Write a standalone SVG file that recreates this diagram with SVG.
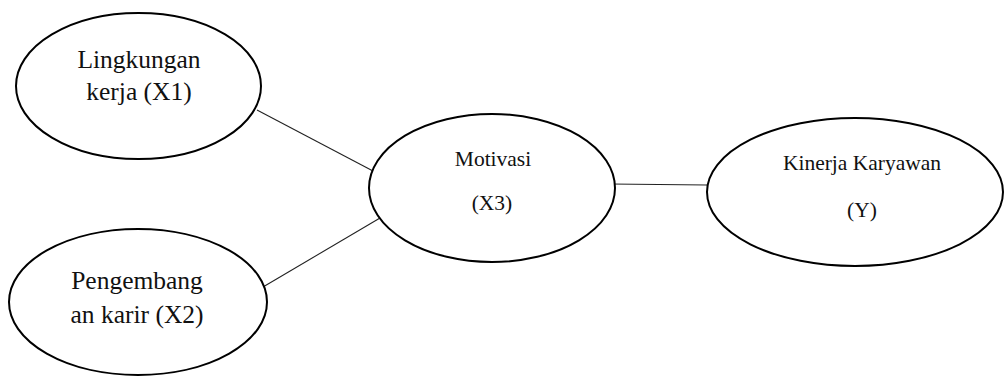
<svg xmlns="http://www.w3.org/2000/svg" width="1005" height="378" viewBox="0 0 1005 378">
<style>
.node ellipse{fill:#fff;stroke:#000;stroke-width:2}
.conn line{stroke:#222;stroke-width:1.1}
text{font-family:"Liberation Serif","Times New Roman",serif;fill:#111;text-anchor:middle}
.big{font-size:25.5px}
.mid{font-size:21.5px}
</style>
<rect width="1005" height="378" fill="#fff"/>
<g id="connectors" class="conn">
<line x1="257" y1="110" x2="373" y2="171"/>
<line x1="263" y1="287" x2="380" y2="218"/>
<line x1="610" y1="184" x2="707" y2="185"/>
</g>
<g id="node-x1" class="node">
<ellipse cx="138.5" cy="86" rx="122.5" ry="73"/>
<text class="big" x="139" y="68">Lingkungan</text>
<text class="big" x="139" y="100">kerja (X1)</text>
</g>
<g id="node-x2" class="node">
<ellipse cx="138" cy="302" rx="129" ry="73"/>
<text class="big" x="137" y="289">Pengembang</text>
<text class="big" x="137" y="323">an karir (X2)</text>
</g>
<g id="node-x3" class="node">
<ellipse cx="492" cy="188" rx="123" ry="74"/>
<text class="mid" x="493" y="166">Motivasi</text>
<text class="mid" x="492" y="210">(X3)</text>
</g>
<g id="node-y" class="node">
<ellipse cx="855" cy="192" rx="148" ry="74"/>
<text class="mid" x="862" y="170">Kinerja Karyawan</text>
<text class="mid" x="862" y="217">(Y)</text>
</g>
</svg>
